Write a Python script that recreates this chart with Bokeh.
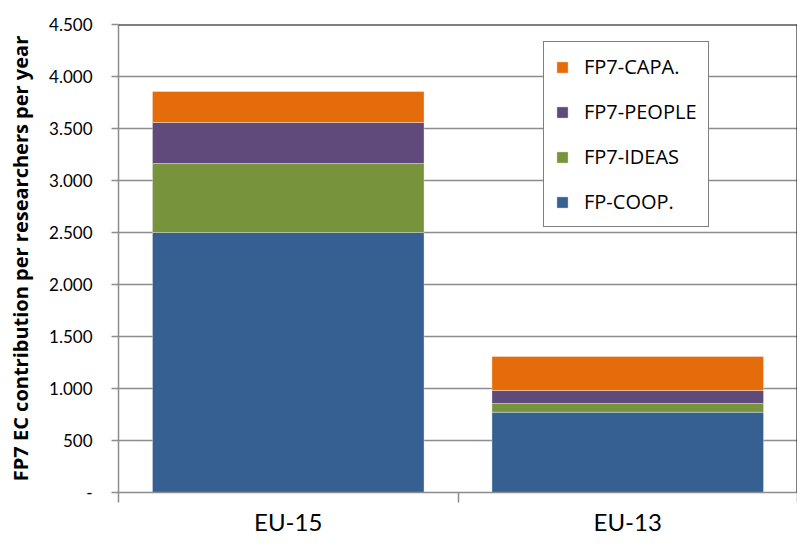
from bokeh.plotting import figure
from bokeh.models import (ColumnDataSource, FixedTicker, Legend, LegendItem, Span, Range1d)
from bokeh.embed import file_html
from bokeh.resources import INLINE

regions = ["EU-15", "EU-13"]
x_pos = [0.5, 1.5]
series = ["FP-COOP.", "FP7-IDEAS", "FP7-PEOPLE", "FP7-CAPA."]
coop = [2500, 772]
ideas = [663, 84]
people = [395, 125]
capa = [298, 327]
colors = ["#376092", "#77933C", "#604A7B", "#E46C0A"]
y_ticks = [0, 500, 1000, 1500, 2000, 2500, 3000, 3500, 4000, 4500]
y_tick_labels = ["-", "500", "1.000", "1.500", "2.000", "2.500", "3.000", "3.500", "4.000", "4.500"]

src = ColumnDataSource(dict(x=x_pos, coop=coop, ideas=ideas, people=people, capa=capa))

FONT = "Lato"
GRID = "#8C8C8C"

p = figure(width=797, height=538, output_backend="svg", toolbar_location=None,
           x_range=Range1d(0, 2), y_range=Range1d(0, 4500),
           min_border_left=118, min_border_right=0, min_border_top=24, min_border_bottom=46)
p.outline_line_color = None
p.background_fill_color = "white"
p.border_fill_color = "white"

rs = p.vbar_stack(["coop", "ideas", "people", "capa"], x="x", width=0.8, source=src,
                  color=colors, line_color="white", line_alpha=0.35, line_width=1)

# frame top & right borders
p.add_layout(Span(location=4500, dimension="width", line_color="black", line_width=2))
p.add_layout(Span(location=2, dimension="height", line_color="black", line_width=2))

# y axis
p.yaxis.ticker = FixedTicker(ticks=y_ticks)
p.yaxis.major_label_overrides = {t: l for t, l in zip(y_ticks, y_tick_labels)}
p.yaxis.major_tick_out = 7
p.yaxis.major_tick_in = 0
p.yaxis.minor_tick_line_color = None
p.yaxis.axis_line_color = GRID
p.yaxis.axis_line_width = 1.5
p.yaxis.major_tick_line_color = GRID
p.yaxis.major_tick_line_width = 1.5
p.yaxis.major_label_standoff = 19
p.yaxis.major_label_text_font = FONT
p.yaxis.major_label_text_font_size = "17px"
p.yaxis.major_label_text_color = "#000000"
p.yaxis.axis_label = "FP7 EC contribution per researchers per year"
p.yaxis.axis_label_text_font = "Open Sans"
p.yaxis.axis_label_text_font_style = "bold"
p.yaxis.axis_label_text_font_size = "20px"
p.yaxis.axis_label_text_color = "#000000"
p.yaxis.axis_label_standoff = 12

# x axis
p.xaxis.ticker = FixedTicker(ticks=x_pos, minor_ticks=[0, 1, 2])
p.xaxis.major_label_overrides = {x: r for x, r in zip(x_pos, regions)}
p.xaxis.major_tick_out = 0
p.xaxis.major_tick_in = 0
p.xaxis.minor_tick_out = 10
p.xaxis.minor_tick_in = 0
p.xaxis.minor_tick_line_color = GRID
p.xaxis.minor_tick_line_width = 1.5
p.xaxis.axis_line_color = GRID
p.xaxis.axis_line_width = 1.5
p.xaxis.major_label_standoff = 4
p.xaxis.major_label_text_font = FONT
p.xaxis.major_label_text_font_size = "24px"
p.xaxis.major_label_text_color = "#000000"

# grid
p.xgrid.grid_line_color = None
p.ygrid.ticker = FixedTicker(ticks=y_ticks[1:])
p.ygrid.grid_line_color = GRID
p.ygrid.grid_line_width = 1.5

items = [LegendItem(label=series[i], renderers=[rs[i]]) for i in [3, 2, 1, 0]]
legend = Legend(items=items, location=(425, 265), orientation="vertical",
                label_text_font="Open Sans", label_text_font_size="20px", label_text_color="#000000",
                glyph_width=14, glyph_height=14, label_height=20, label_standoff=15,
                spacing=18, padding=11, margin=0,
                border_line_color="black", border_line_width=1.5,
                background_fill_color="white", background_fill_alpha=1.0)
p.add_layout(legend)

open("out.html", "w").write(file_html(p, INLINE))
